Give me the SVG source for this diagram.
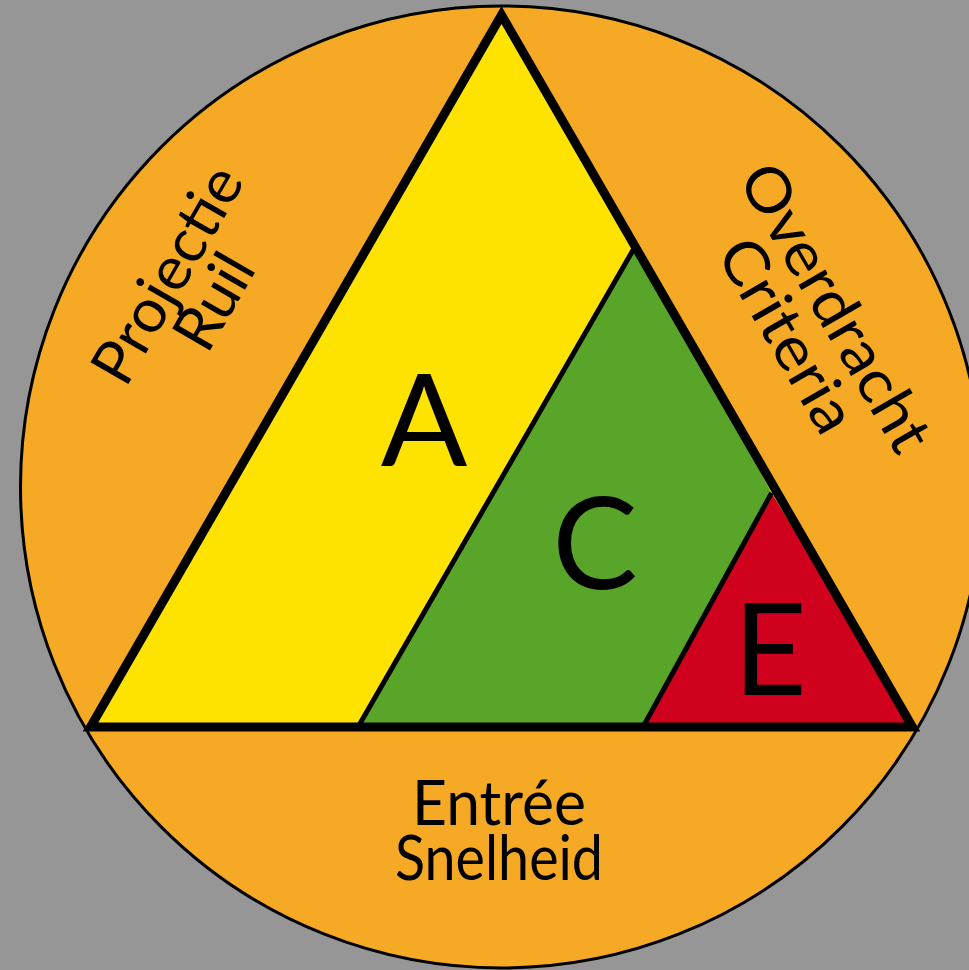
<svg xmlns="http://www.w3.org/2000/svg" width="969" height="970" viewBox="0 0 969 970">
<style>
.lbl{font-family:"Lato","Open Sans","Liberation Sans",sans-serif;fill:#000;text-anchor:middle}
.big{font-size:128px}
.side{font-size:61px}
.div{stroke:#000;stroke-width:5;fill:none}
</style>
<rect width="969" height="970" fill="#969696"/>
<g id="ring">
<circle cx="501.5" cy="487" r="481" fill="#F6A924" stroke="#000" stroke-width="3"/>
</g>
<g id="zone-a">
<polygon points="501.5,15 90.5,727 912.5,727" fill="#FFE300"/>
</g>
<g id="zone-c">
<polygon points="358,727 635.4,246 771.6,492.9 643,727" fill="#58A52A"/>
</g>
<g id="zone-e">
<polygon points="643,727 771.6,492.9 912.5,727" fill="#D0011C"/>
</g>
<g id="connectors">
<line class="div" x1="358" y1="727" x2="635.4" y2="246"/>
<line class="div" x1="643" y1="727" x2="771.6" y2="492.9"/>
<polygon points="501.5,15 90.5,727 912.5,727" fill="none" stroke="#000" stroke-width="9" stroke-linejoin="miter"/>
</g>
<g id="label-a"><text class="lbl big" x="424" y="466">A</text></g>
<g id="label-c"><text class="lbl big" x="595" y="589">C</text></g>
<g id="label-e"><text class="lbl big" x="770" y="695">E</text></g>
<g id="label-projectie">
<text class="lbl side" transform="translate(189,287) rotate(-60)"><tspan x="0" y="-4" textLength="240" lengthAdjust="spacingAndGlyphs">Projectie</tspan><tspan x="0" y="50">Ruil</tspan></text>
</g>
<g id="label-overdracht">
<text class="lbl side" transform="translate(814,320) rotate(60)"><tspan x="0" y="-4" textLength="322" lengthAdjust="spacingAndGlyphs">Overdracht</tspan><tspan x="0" y="52" textLength="214" lengthAdjust="spacingAndGlyphs">Criteria</tspan></text>
</g>
<g id="label-entree">
<text class="lbl side" x="499" y="825" textLength="174" lengthAdjust="spacingAndGlyphs">Entrée</text>
</g>
<g id="label-snelheid">
<text class="lbl side" x="499" y="880" textLength="208" lengthAdjust="spacingAndGlyphs">Snelheid</text>
</g>
</svg>
